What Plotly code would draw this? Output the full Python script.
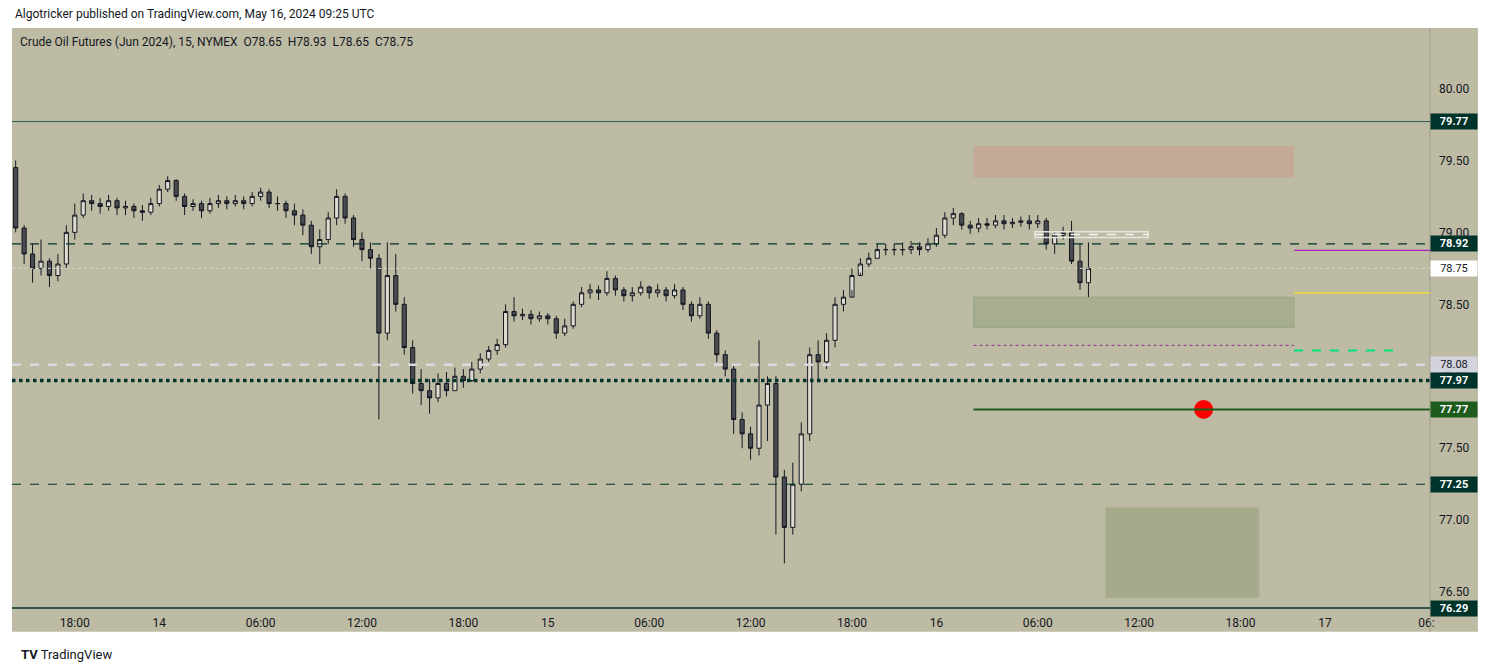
import pandas as pd
import plotly.graph_objects as go

# 30-minute candles, four sessions (break 21:00-22:00 UTC)
seg_starts = ["2024-05-13 14:30", "2024-05-13 22:00", "2024-05-14 22:00", "2024-05-15 22:00"]

close_a = [79.03, 78.85, 78.75, 78.80, 78.70, 78.78, 79.00, 79.12, 79.22, 79.20, 79.18, 79.22, 79.17]
high_a = [79.50, 79.05, 78.92, 78.95, 78.82, 78.85, 79.05, 79.20, 79.27, 79.26, 79.24, 79.26, 79.24]
low_a = [79.00, 78.78, 78.65, 78.70, 78.62, 78.66, 78.75, 78.95, 79.10, 79.15, 79.13, 79.15, 79.12]

close_b = [79.18, 79.15, 79.14, 79.20, 79.30, 79.36, 79.25, 79.18, 79.20, 79.15, 79.20, 79.22, 79.20, 79.22, 79.20, 79.25,
           79.28, 79.20, 79.20, 79.15, 79.12, 79.05, 78.90, 78.95, 79.10, 79.25, 79.10, 78.95, 78.88, 78.82, 78.30, 78.70,
           78.50, 78.20, 77.95, 77.90, 77.85, 77.95, 77.90, 78.00, 77.97, 78.05, 78.12, 78.18, 78.22, 78.45]
high_b = [79.22, 79.20, 79.19, 79.24, 79.33, 79.39, 79.37, 79.27, 79.23, 79.22, 79.24, 79.26, 79.25, 79.26, 79.25, 79.28,
          79.31, 79.30, 79.25, 79.22, 79.20, 79.16, 79.08, 79.02, 79.14, 79.30, 79.27, 79.12, 79.00, 78.93, 78.85, 78.93,
          78.85, 78.55, 78.25, 78.05, 77.98, 78.02, 78.03, 78.06, 78.05, 78.10, 78.16, 78.21, 78.26, 78.50]
low_b = [79.12, 79.10, 79.08, 79.12, 79.18, 79.28, 79.22, 79.12, 79.15, 79.10, 79.13, 79.17, 79.16, 79.18, 79.16, 79.18,
         79.22, 79.17, 79.15, 79.10, 79.05, 78.98, 78.85, 78.78, 78.92, 79.05, 79.06, 78.90, 78.80, 78.75, 77.70, 78.25,
         78.45, 78.15, 77.88, 77.80, 77.74, 77.82, 77.86, 77.90, 77.92, 77.96, 78.02, 78.10, 78.15, 78.20]

close_c = [78.42, 78.43, 78.40, 78.42, 78.40, 78.30, 78.35, 78.50, 78.58, 78.60, 78.58, 78.68, 78.60, 78.56, 78.58, 78.62,
           78.58, 78.60, 78.56, 78.60, 78.50, 78.42, 78.50, 78.30, 78.15, 78.05, 77.70, 77.60, 77.50, 77.80, 77.95, 77.30,
           76.95, 77.25, 77.60, 78.15, 78.10, 78.25, 78.50, 78.55, 78.70, 78.78, 78.82, 78.88, 78.88, 78.88]
high_c = [78.55, 78.47, 78.46, 78.45, 78.44, 78.42, 78.40, 78.52, 78.62, 78.64, 78.63, 78.73, 78.70, 78.62, 78.62, 78.66,
          78.63, 78.64, 78.62, 78.64, 78.62, 78.52, 78.55, 78.52, 78.32, 78.18, 78.08, 77.75, 77.65, 78.25, 78.00, 78.00,
          77.35, 77.40, 77.68, 78.20, 78.25, 78.30, 78.55, 78.60, 78.75, 78.82, 78.86, 78.92, 78.92, 78.92]
low_c = [78.38, 78.39, 78.36, 78.38, 78.36, 78.26, 78.28, 78.33, 78.48, 78.54, 78.53, 78.56, 78.56, 78.52, 78.52, 78.56,
         78.54, 78.55, 78.52, 78.54, 78.46, 78.38, 78.40, 78.26, 78.10, 78.00, 77.60, 77.50, 77.42, 77.45, 77.55, 76.90,
         76.70, 76.90, 77.20, 77.55, 77.98, 78.05, 78.20, 78.45, 78.60, 78.72, 78.76, 78.82, 78.84, 78.84]

close_d = [78.88, 78.90, 78.88, 78.92, 78.98, 79.10, 79.13, 79.05, 79.03, 79.06, 79.05, 79.08, 79.06, 79.07, 79.08, 79.06,
           79.08, 78.92, 78.98, 79.00, 78.80, 78.65, 78.75]
high_d = [78.93, 78.94, 78.93, 78.96, 79.03, 79.14, 79.17, 79.14, 79.08, 79.10, 79.10, 79.12, 79.12, 79.10, 79.11, 79.12,
          79.12, 79.10, 79.00, 79.04, 79.08, 78.92, 78.93]
low_d = [78.84, 78.85, 78.84, 78.86, 78.90, 78.96, 79.05, 79.02, 78.99, 79.00, 79.02, 79.03, 79.02, 79.03, 79.04, 79.02,
         79.03, 78.88, 78.85, 78.95, 78.78, 78.60, 78.55]
first_open = 79.45

levels = [79.77, 78.92, 78.75, 78.08, 77.97, 77.77, 77.25]
y_ticks = [76.5, 77.0, 77.5, 78.0, 78.5, 79.0, 79.5, 80.0]
x_tickvals = ["2024-05-13 18:00", "2024-05-14 00:00", "2024-05-14 06:00", "2024-05-14 12:00", "2024-05-14 18:00",
              "2024-05-15 00:00", "2024-05-15 06:00", "2024-05-15 12:00", "2024-05-15 18:00", "2024-05-16 00:00",
              "2024-05-16 06:00", "2024-05-16 12:00", "2024-05-16 18:00", "2024-05-17 00:00", "2024-05-17 06:00"]
x_ticktext = ["18:00", "14", "06:00", "12:00", "18:00", "15", "06:00", "12:00", "18:00", "16",
              "06:00", "12:00", "18:00", "17", "06:"]

closes = close_a + close_b + close_c + close_d
highs = high_a + high_b + high_c + high_d
lows = low_a + low_b + low_c + low_d
times = []
for start, seg in zip(seg_starts, [close_a, close_b, close_c, close_d]):
    times += list(pd.date_range(start, periods=len(seg), freq="30min"))
opens = [first_open] + closes[:-1]

DARK = "#00332a"
BG = "#bebba4"

fig = go.Figure(go.Candlestick(
    x=times, open=opens, high=highs, low=lows, close=closes,
    increasing=dict(line=dict(color="#131722", width=1), fillcolor="#dedccf"),
    decreasing=dict(line=dict(color="#131722", width=1), fillcolor="#4a4b50"),
    whiskerwidth=0, showlegend=False, hoverinfo="skip",
))

x0, x1 = "2024-05-13 14:17", "2024-05-17 06:13"
zx0, zx1 = "2024-05-16 02:12", "2024-05-16 22:10"

shapes = [
    # background incl. axis area
    dict(type="rect", xref="paper", yref="paper", x0=0, x1=1.0338, y0=-0.041, y1=1, fillcolor=BG,
         line=dict(width=0), layer="below"),
    dict(type="line", xref="paper", yref="paper", x0=1.0, x1=1.0, y0=-0.041, y1=1, line=dict(color="#9e9c8a", width=1)),
    dict(type="line", xref="paper", yref="paper", x0=0, x1=1.0, y0=0, y1=0, line=dict(color=DARK, width=1.5)),
    # zones
    dict(type="rect", x0=zx0, x1=zx1, y0=79.38, y1=79.60, fillcolor="#c5a993", opacity=0.9, line=dict(width=0), layer="below"),
    dict(type="rect", x0=zx0, x1=zx1, y0=78.34, y1=78.55, fillcolor="#a7ad8f", line=dict(color="#97a687", width=1), layer="below"),
    dict(type="rect", x0="2024-05-16 10:00", x1="2024-05-16 19:06", y0=76.46, y1=77.09, fillcolor="#a5aa8b",
         line=dict(color="#b3b39c", width=1), layer="below"),
    dict(type="rect", x0="2024-05-16 05:50", x1="2024-05-16 12:32", y0=78.965, y1=79.005, fillcolor="rgba(0,0,0,0)",
         line=dict(color="#e6e6e0", width=1.5)),
    dict(type="line", x0="2024-05-16 05:50", x1="2024-05-16 12:32", y0=78.985, y1=78.985,
         line=dict(color="#f2f2f2", width=1.5, dash="dash")),
    # levels
    dict(type="line", xref="paper", x0=0, x1=1, y0=79.77, y1=79.77, line=dict(color="#2e5e50", width=1)),
    dict(type="line", xref="paper", x0=0, x1=1, y0=78.92, y1=78.92, line=dict(color=DARK, width=1.2, dash="dash")),
    dict(type="line", xref="paper", x0=0, x1=1, y0=78.75, y1=78.75, line=dict(color="#d8d6c8", width=1, dash="dot")),
    dict(type="line", xref="paper", x0=0, x1=1, y0=78.08, y1=78.08, line=dict(color="#d9d9df", width=2.5, dash="dash")),
    dict(type="line", xref="paper", x0=0, x1=1, y0=77.97, y1=77.97, line=dict(color=DARK, width=3.5, dash="dot")),
    dict(type="line", xref="paper", x0=0, x1=1, y0=77.25, y1=77.25, line=dict(color=DARK, width=1.2, dash="dash")),
    dict(type="line", x0=zx0, x1=x1, y0=77.77, y1=77.77, line=dict(color="#1e5c1e", width=2)),
    dict(type="line", x0=zx0, x1=zx1, y0=78.215, y1=78.215, line=dict(color="#8e2a8e", width=1, dash="dot")),
    dict(type="line", x0=zx1, x1=x1, y0=78.875, y1=78.875, line=dict(color="#b020c0", width=1.3)),
    dict(type="line", x0=zx1, x1=x1, y0=78.58, y1=78.58, line=dict(color="#f5e020", width=1.3)),
    dict(type="line", x0=zx1, x1="2024-05-17 04:08", y0=78.18, y1=78.18, line=dict(color="#00e676", width=2, dash="dash")),
]

fig.add_trace(go.Scatter(x=["2024-05-16 15:49"], y=[77.77], mode="markers",
                         marker=dict(color="#ff0000", size=19), showlegend=False, hoverinfo="skip"))

annotations = [
    dict(xref="paper", yref="paper", x=0.001, y=1.024, xanchor="left", yanchor="middle", showarrow=False,
         text="Algotricker published on TradingView.com, May 16, 2024 09:25 UTC", font=dict(size=12, color="#131722")),
    dict(xref="paper", yref="paper", x=0.004, y=0.976, xanchor="left", yanchor="middle", showarrow=False,
         text="Crude Oil Futures (Jun 2024), 15, NYMEX  O78.65  H78.93  L78.65  C78.75", font=dict(size=12, color="#131722")),
    dict(xref="paper", yref="paper", x=0.005, y=-0.08, xanchor="left", yanchor="middle", showarrow=False,
         text="<b>TV</b> TradingView", font=dict(size=13, color="#131722")),
]
label_style = {
    79.77: (DARK, "white"), 78.92: (DARK, "white"), 78.75: ("#ffffff", "#131722"),
    78.08: ("#d2d3dc", "#131722"), 77.97: (DARK, "white"), 77.77: ("#1e5c1e", "white"), 77.25: (DARK, "white"),
}
for lv in levels:
    bg, fg = label_style[lv]
    txt = f"{lv:.2f}" if fg != "white" else f"<b>{lv:.2f}</b>"
    annotations.append(dict(xref="paper", yref="y", x=1.0, y=lv, xanchor="left", yanchor="middle", showarrow=False,
                            text=txt, bgcolor=bg, font=dict(size=11, color=fg), borderpad=1, width=44))
annotations.append(dict(xref="paper", yref="paper", x=1.0, y=0.0, xanchor="left", yanchor="middle", showarrow=False,
                        text="<b>76.29</b>", bgcolor=DARK, font=dict(size=11, color="white"), borderpad=1, width=44))

fig.update_layout(
    width=1473, height=656,
    margin=dict(l=4, r=51, t=20, b=56),
    paper_bgcolor="white", plot_bgcolor=BG,
    font=dict(family="Roboto, Arial, sans-serif", size=12, color="#131722"),
    shapes=shapes, annotations=annotations,
    xaxis=dict(range=[x0, x1], rangeslider=dict(visible=False), showgrid=False, zeroline=False,
               rangebreaks=[dict(pattern="hour", bounds=[21, 22])],
               tickmode="array", tickvals=x_tickvals, ticktext=x_ticktext, ticks="", ticklabelstandoff=6),
    yaxis=dict(range=[76.39, 80.42], side="right", showgrid=False, zeroline=False,
               tickvals=y_ticks, ticktext=[f"{v:.2f}" for v in y_ticks], ticks="", ticklabelstandoff=8),
)

fig.write_html("out.html")
